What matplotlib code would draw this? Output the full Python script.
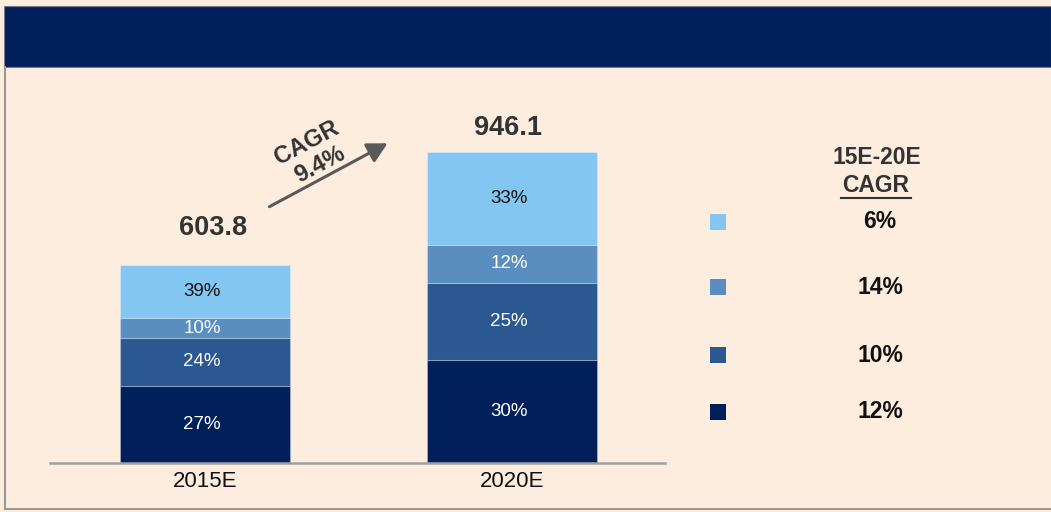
import matplotlib
matplotlib.use('Agg')
import matplotlib.pyplot as plt
from matplotlib.patches import Rectangle, FancyArrowPatch
from matplotlib.lines import Line2D
import numpy as np

plt.rcParams['font.family'] = ['Liberation Sans', 'DejaVu Sans']

# data
years = ['2015E', '2020E']
totals = [603.8, 946.1]
# segment shares (bottom -> top) as drawn
seg_bottom = [39, 33]
seg_second = [24, 25]
seg_third = [10, 12]
seg_top = [27, 30]
# labels printed on the segments (bottom -> top)
lab_bottom = ['27%', '30%']
lab_second = ['24%', '25%']
lab_third = ['10%', '12%']
lab_top = ['39%', '33%']
cagr_total = '9.4%'
legend_cagr = ['6%', '14%', '10%', '12%']   # top segment -> bottom segment

colors = ['#001F5B', '#2B5891', '#5A8DC0', '#84C6F2']  # bottom -> top
bg = '#FDEDDF'

W, H = 1051, 512
fig = plt.figure(figsize=(W / 100, H / 100), dpi=100, facecolor=bg)


def fx(px):
    return px / W


def fy(py):
    return 1 - py / H


# header band and frame
fig.patches.append(Rectangle((fx(4), fy(67)), fx(1051) - fx(4), fy(6) - fy(67),
                             transform=fig.transFigure, facecolor='#00205B',
                             edgecolor='#7a7a8a', linewidth=0.8, zorder=0))
fig.lines.append(Line2D([fx(5), fx(5)], [fy(67), fy(509)], transform=fig.transFigure,
                        color='#999999', linewidth=1.5))
fig.lines.append(Line2D([fx(5), fx(1051)], [fy(509), fy(509)], transform=fig.transFigure,
                        color='#999999', linewidth=1.5))

# bar axes
ax = fig.add_axes([fx(50), fy(463), fx(665) - fx(50), fy(68) - fy(463)])
ax.set_facecolor('none')
px_per_unit = 311 / 946.1
ax.set_xlim(-0.505, 1.498)
ax.set_ylim(0, 395 / px_per_unit)
for s in ['top', 'right', 'left']:
    ax.spines[s].set_visible(False)
ax.spines['bottom'].set_color('#a0a0a0')
ax.spines['bottom'].set_linewidth(1.8)
ax.set_yticks([])
x = np.arange(len(years))
ax.set_xticks(x)
ax.set_xticklabels(years, fontsize=16, color='#111111')
ax.tick_params(axis='x', length=0, pad=6)

shares = [seg_bottom, seg_second, seg_third, seg_top]
labels = [lab_bottom, lab_second, lab_third, lab_top]
width = 170 / 307
base = np.zeros(len(years))
for i, (sh, lab) in enumerate(zip(shares, labels)):
    vals = np.array(totals) * np.array(sh) / 100
    ax.bar(x, vals, width, bottom=base, color=colors[i],
           edgecolor=(1, 1, 1, 0.25), linewidth=0.8)
    for j in range(len(years)):
        tc = '#111111' if i == 3 else 'white'
        ax.text(x[j] - 0.01, base[j] + vals[j] / 2, lab[j], ha='center', va='center',
                fontsize=13.5, color=tc)
    base += vals

# totals
ax.text(x[0] + 0.027, totals[0] + 37 / px_per_unit, f'{totals[0]:.1f}', ha='center',
        va='center', fontsize=19.5, fontweight='bold', color='#333333')
ax.text(x[1] - 0.013, totals[1] + 24 / px_per_unit, f'{totals[1]:.1f}', ha='center',
        va='center', fontsize=19.5, fontweight='bold', color='#333333')

# CAGR arrow
arr = FancyArrowPatch((fx(267), fy(208)), (fx(390), fy(142)), transform=fig.transFigure,
                      arrowstyle='-|>,head_length=6,head_width=3.2', color='#595959',
                      linewidth=2.2, mutation_scale=2)
fig.patches.append(arr)
fig.text(fx(307), fy(143), 'CAGR', rotation=28, ha='center', va='center',
         fontsize=17, fontweight='bold', color='#333333')
fig.text(fx(320), fy(165), cagr_total, rotation=28, ha='center', va='center',
         fontsize=17, fontweight='bold', color='#333333')

# legend
fig.text(fx(877), fy(157), '15E-20E', ha='center', va='center', fontsize=16.5,
         fontweight='bold', color='#333333')
fig.text(fx(876), fy(185), 'CAGR', ha='center', va='center', fontsize=16.5,
         fontweight='bold', color='#333333')
fig.lines.append(Line2D([fx(841), fx(911)], [fy(198), fy(198)], transform=fig.transFigure,
                        color='#333333', linewidth=1.5))
leg_y = [222, 287, 355, 412]
for k, (yy, txt) in enumerate(zip(leg_y, legend_cagr)):
    c = colors[3 - k]
    fig.patches.append(Rectangle((fx(710), fy(yy + 8)), fx(16), 16 / H,
                                 transform=fig.transFigure, facecolor=c, edgecolor='none'))
    fig.text(fx(880), fy(yy), txt, ha='center', va='center', fontsize=16.5,
             fontweight='bold', color='#111111')

fig.savefig('out.png', dpi=100, facecolor=bg)
